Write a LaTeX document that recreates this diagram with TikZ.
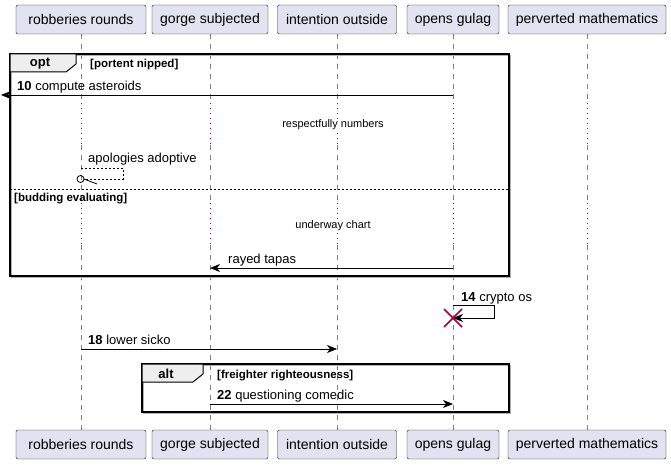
\documentclass[tikz,border=0pt]{standalone}
\usepackage{fontspec}
\setmainfont{Liberation Sans}
\usetikzlibrary{arrows.meta, positioning}
\definecolor{partfill}{HTML}{E2E2F0}
\definecolor{partdraw}{HTML}{181818}
\definecolor{delayred}{HTML}{A80036}
\definecolor{tabfill}{HTML}{EEEEEE}
\tikzset{
    participant/.style={rectangle, draw=partdraw, fill=partfill, rounded corners=2pt, minimum height=29pt, text centered, font=\fontsize{14}{16}\selectfont},
    lifeline/.style={draw=gray, dash pattern=on 5pt off 5pt, line width=0.7pt},
    delayline/.style={draw=delayred, dash pattern=on 1pt off 4pt, line width=0.8pt},
    delaytext/.style={fill=white, inner sep=1pt, font=\fontsize{11}{13}\selectfont},
    msg/.style={line width=0.8pt, -{Stealth[length=10pt, width=8pt, inset=3pt]}},
    reply/.style={line width=0.8pt, dash pattern=on 2pt off 2pt},
    msglabel/.style={anchor=base west, inner sep=0pt, font=\fontsize{13}{15}\selectfont},
    frame/.style={line width=1.4pt, draw=black},
    shadow/.style={line width=1.4pt, draw=gray!60},
    tab/.style={fill=tabfill, draw=black, line width=1pt},
    tablabel/.style={font=\bfseries\fontsize{13}{15}\selectfont, inner sep=0pt},
    guard/.style={anchor=base west, inner sep=0pt, font=\bfseries\fontsize{11.5}{13}\selectfont},
    destroy/.style={draw=delayred, line width=1.6pt}
}
\begin{document}
\begin{tikzpicture}[x=1pt, y=-1pt]
    \useasboundingbox (0,0) rectangle (671,465);
    % Participants
    \node (rob) [participant, minimum width=130pt] at (81,19.5) {robberies rounds};
    \node (gorge) [participant, minimum width=116pt] at (210,19.5) {gorge subjected};
    \node (intent) [participant, minimum width=119pt] at (337,19.5) {intention outside};
    \node (gulag) [participant, minimum width=92pt] at (453,19.5) {opens gulag};
    \node (perv) [participant, minimum width=158pt] at (587,19.5) {perverted mathematics};
    \node (rob-b) [participant, minimum width=130pt] at (81,444.5) {robberies rounds};
    \node (gorge-b) [participant, minimum width=116pt] at (210,444.5) {gorge subjected};
    \node (intent-b) [participant, minimum width=119pt] at (337,444.5) {intention outside};
    \node (gulag-b) [participant, minimum width=92pt] at (453,444.5) {opens gulag};
    \node (perv-b) [participant, minimum width=158pt] at (587,444.5) {perverted mathematics};
    % Lifelines, broken by the two delays
    \foreach \p in {rob,gorge,intent,gulag,perv} {
        \draw [lifeline] (\p.south) -- (\p |- 0,103);
        \draw [delayline] (\p |- 0,103) -- (\p |- 0,145);
        \draw [lifeline] (\p |- 0,145) -- (\p |- 0,203);
        \draw [delayline] (\p |- 0,203) -- (\p |- 0,245);
        \draw [lifeline] (\p |- 0,245) -- (\p-b.north);
    }
    % Opt frame
    \draw [shadow] (11.5,55.5) rectangle (510.5,277.5);
    \draw [frame] (10,54) rectangle (509,276);
    \draw [tab] (10,54) -- (76,54) -- (76,64) -- (66,72) -- (10,72) -- cycle;
    \node (opt) [tablabel] at (40,63.5) {opt};
    \node (optguard) [guard] at (90,68) {[portent nipped]};
    \draw [line width=0.8pt, dash pattern=on 2pt off 2pt] (10,189) -- (509,189);
    \node (elseguard) [guard] at (14,201) {[budding evaluating]};
    % Message 10 (lost to the left)
    \coordinate (m10s) at (gulag |- 0,95);
    \coordinate (m10e) at (1,95);
    \draw [msg] (m10s) -- (m10e);
    \node (l10) [msglabel] at (17,90.5) {\textbf{10} compute asteroids};
    % Delay 1
    \node (delay1) [delaytext] at (333,125) {respectfully numbers};
    % Self reply on robberies rounds
    \coordinate (rs) at (rob |- 0,168);
    \coordinate (re) at (84,179);
    \draw [reply] (rs) -- (123,168) -- (123,179) -- (re);
    \draw [line width=0.8pt] (80.5,179) circle (3.5pt);
    \draw [line width=0.8pt] (re) -- (97,184);
    \node (lrep) [msglabel] at (88,162.5) {apologies adoptive};
    % Delay 2
    \node (delay2) [delaytext] at (333,226) {underway chart};
    % Rayed tapas
    \coordinate (rts) at (gulag |- 0,268);
    \coordinate (rte) at (gorge |- 0,268);
    \draw [msg] (rts) -- (rte);
    \node (lrt) [msglabel] at (228,263.5) {rayed tapas};
    % Message 14, self, then destroy
    \coordinate (m14s) at (gulag |- 0,305);
    \coordinate (m14e) at (gulag |- 0,318);
    \draw [msg] (m14s) -- (494,305) -- (494,318) -- (m14e);
    \node (l14) [msglabel] at (461,301.5) {\textbf{14} crypto os};
    \draw [destroy] ([shift={(-9,-9)}]m14e) -- ([shift={(9,9)}]m14e);
    \draw [destroy] ([shift={(-9,9)}]m14e) -- ([shift={(9,-9)}]m14e);
    % Message 18
    \coordinate (m18s) at (rob |- 0,349);
    \coordinate (m18e) at (intent |- 0,349);
    \draw [msg] (m18s) -- (m18e);
    \node (l18) [msglabel] at (88,344.5) {\textbf{18} lower sicko};
    % Alt frame
    \draw [shadow] (143.5,365.5) rectangle (510.5,413.5);
    \draw [frame] (142,364) rectangle (509,412);
    \draw [tab] (142,364) -- (203,364) -- (203,374) -- (193,382) -- (142,382) -- cycle;
    \node (alt) [tablabel] at (166,373.5) {alt};
    \node (altguard) [guard] at (217,378) {[freighter righteousness]};
    % Message 22
    \coordinate (m22s) at (gorge |- 0,404);
    \coordinate (m22e) at (gulag |- 0,404);
    \draw [msg] (m22s) -- (m22e);
    \node (l22) [msglabel] at (217,399.5) {\textbf{22} questioning comedic};
\end{tikzpicture}
\end{document}
